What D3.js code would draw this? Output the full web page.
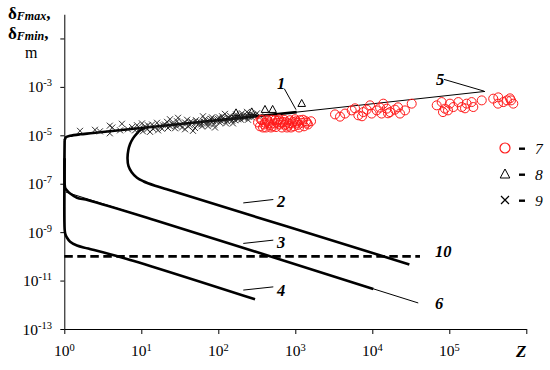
<!DOCTYPE html>
<html><head><meta charset="utf-8">
<script src="https://cdn.jsdelivr.net/npm/d3@7"></script>
<style>body{margin:0;background:#fff} svg{display:block} text{font-family:"Liberation Serif","Times New Roman",serif;fill:#000}</style>
</head><body><svg id="c" width="550" height="370"></svg>
<script>
// ---- data ----
const xTicks = [1, 10, 100, 1e3, 1e4, 1e5, 1e6];
const xTickLabels = ["0", "1", "2", "3", "4", "5", null];
const yTicks = [1e-13, 1e-11, 1e-9, 1e-7, 1e-5, 1e-3, 1e-1];
const yTickLabels = ["-13", "-11", "-9", "-7", "-5", "-3", null];

// thick computed curves [Z, delta]
const curve1 = [[1.0,6.0e-6],[1.02,6.8e-6],[1.05,8.3e-6],[1.19,9.5e-6],[1.6,1.1e-5],[2.36,1.24e-5],[10,2.0e-5],[100,4.24e-5],[1042,9.1e-5]];
const curve2 = [[11.2,2.04e-5],[9.9,1.69e-5],[8.8,1.21e-5],[7.8,7.5e-6],[7.13,4.26e-6],[6.78,2.4e-6],[6.62,1.13e-6],[6.82,5.3e-7],[7.5,3.0e-7],[8.79,1.77e-7],[10.6,1.27e-7],[15.1,8.3e-8],[21.4,5.9e-8],[30300,4.66e-11]];
const curve3 = [[1.01,6.3e-6],[1.01,1.0e-7],[1.03,6.5e-8],[1.08,5.3e-8],[1.19,3.94e-8],[1.46,2.65e-8],[2.05,2.09e-8],[15.1,3.13e-9],[10300,4.47e-12]];
const curve4 = [[1.01,1.12e-6],[1.01,1.3e-9],[1.03,8.5e-10],[1.08,6.0e-10],[1.19,4.0e-10],[1.46,2.8e-10],[2.05,2.1e-10],[6.2,8.2e-11],[300,1.68e-12]];
// thin asymptotes
const line5 = [[100,4.0e-5],[291000,6.5e-4]];
const line6 = [[1.05,4.5e-8],[39500,1.19e-12]];
// dashed level 10
const line10 = [[1.0,1e-10],[41600,1e-10]];

// experimental points
const series7 = [[328,3.4e-5],[348,2.35e-5],[370,4.2e-5],[393,2.8e-5],[416,2.1e-5],[442,3.8e-5],[469,2.6e-5],[498,4.4e-5],[528,3.1e-5],[561,2.2e-5],[596,4.0e-5],[632,2.8e-5],[671,2.1e-5],[713,4.4e-5],[757,3.4e-5],[804,2.5e-5],[853,4.2e-5],[906,3.1e-5],[962,2.35e-5],[1021,3.8e-5],[1084,2.7e-5],[1151,4.2e-5],[1222,3.3e-5],[1297,2.35e-5],[1377,3.8e-5],[1462,2.8e-5],[1600,3.8e-5],[381,2.1e-5],[483,2.1e-5],[614,4.6e-5],[780,2.1e-5],[991,4.6e-5],[1259,4.4e-5],[359,4.4e-5],[545,4.2e-5],[879,2.1e-5],[1117,2.1e-5],[735,2.7e-5],[455,3.1e-5],[578,3.3e-5],[933,3.6e-5],[1419,3.3e-5],[692,3.6e-5],[429,4.4e-5],[828,3.1e-5],[1052,3.3e-5],[404,3.3e-5],[651,3.4e-5],[513,2.35e-5],
[3810,5.9e-5],[4420,7.9e-5],[5400,1.07e-4],[6580,6.7e-5],[7640,9.1e-5],[8460,1.15e-4],[9820,7.9e-5],[11400,1.07e-4],[12600,1.39e-4],[13200,7.9e-5],[15400,1.26e-4],[17000,9.1e-5],[19700,1.15e-4],[22900,7.9e-5],[26600,1.07e-4],[32500,2.03e-4],[3280,7.3e-5],[9340,1.73e-4],[13900,2.03e-4],[5960,1.30e-4],[7350,6.1e-5],[16000,8.1e-5],[21600,1.43e-4],
[68600,1.73e-4],[79600,2.36e-4],[87900,1.26e-4],[102000,2.03e-4],[113000,1.47e-4],[131000,2.36e-4],[145000,1.47e-4],[168000,2.03e-4],[195000,2.36e-4],[205000,1.47e-4],[264000,2.77e-4],[82800,9.1e-5],[96200,1.07e-4],[160000,1.30e-4],
[372000,3.26e-4],[433000,3.69e-4],[503000,2.36e-4],[614000,3.36e-4],[678000,2.03e-4],[429000,2.03e-4],[561000,2.77e-4],[633000,2.77e-4]];
const series8 = [[170,8.3e-5],[272,9.1e-5],[404,1.15e-4],[508,1.15e-4],[1211,2.03e-4]];
const series9 = [[1.6,1.53e-5],[3.9,2.5e-5],[3.9,1.21e-5],[4.2,2.1e-5],[5.6,3.0e-5],[6.7,1.77e-5],[7.6,2.2e-5],[8.8,2.6e-5],[9.6,1.95e-5],[10.2,3.1e-5],[11.2,2.35e-5],[11.9,1.77e-5],[13,1.39e-5],[13.8,2.8e-5],[15.1,2.1e-5],[16,3.3e-5],[17.5,2.35e-5],[18.6,1.85e-5],[20.3,2.8e-5],[21.6,3.6e-5],[23.6,2.35e-5],[25.1,3.1e-5],[27.4,1.95e-5],[29.1,3.8e-5],[31.8,2.7e-5],[33.8,2.1e-5],[37,3.4e-5],[39.3,4.4e-5],[42.9,2.6e-5],[45.5,3.3e-5],[46.9,1.53e-5],[51.3,4.2e-5],[54.5,2.8e-5],[57.8,3.6e-5],[61.4,2.35e-5],[67.1,4.6e-5],[71.3,3.1e-5],[78,4.0e-5],[82.8,5.5e-5],[87.9,2.8e-5],[93.3,3.8e-5],[99,4.8e-5],[105,3.3e-5],[112,6.1e-5],[119,4.2e-5],[126,3.1e-5],[134,5.0e-5],[142,6.4e-5],[151,4.0e-5],[160,5.3e-5],[170,7.3e-5],[180,4.6e-5],[191,5.8e-5],[203,8.1e-5],[216,5.0e-5],[229,6.7e-5],[243,4.4e-5],[258,7.3e-5],[274,5.5e-5],[300,6.4e-5],[318,8.1e-5],[348,6.1e-5],[8.3,1.6e-5],[16.5,1.6e-5],[23.6,4.6e-5],[37,1.77e-5],[63.2,6.1e-5],[90.6,2.1e-5],[5.3,1.6e-5],[2.9,1.46e-5],[2.5,1.69e-5],[10.5,1.46e-5],[30,5.3e-5],[49.8,2.0e-5],[73.5,2.35e-5],[122,7.7e-5],[155,3.1e-5],[236,9.3e-5],
[12.2,2.6e-5],[14.2,1.85e-5],[19.1,2.6e-5],[22.2,2.0e-5],[25.8,2.8e-5],[28.3,2.5e-5],[34.8,3.1e-5],[40.5,2.35e-5],[44.2,3.8e-5],[52.9,3.4e-5],[59.6,2.8e-5],[65.2,3.6e-5],[75.7,3.1e-5],[80.4,4.8e-5],[85.3,3.8e-5],[96.2,4.2e-5],[102,5.5e-5],[108,4.0e-5],[115,5.0e-5],[130,3.8e-5],[138,5.3e-5],[146,4.8e-5],[165,4.2e-5],[175,5.8e-5],[186,5.3e-5],[197,4.4e-5],[209,6.4e-5],[222,5.5e-5],[251,5.8e-5],[282,7.0e-5]];

// curve labels: [text, textZ, textDelta, leaderFrom, leaderTo]
const curveLabels = [
  ["1", 578, 8.4e-4, [720,8.4e-4], [1021,1.15e-4]],
  ["5", 67100, 1.15e-3, [85300,2.04e-3], [282000,6.7e-4]],
  ["2", 578, 1.07e-8, [211,1.61e-8], [518,2.23e-8]],
  ["3", 578, 2.19e-10, [211,3.42e-10], [518,4.68e-10]],
  ["4", 578, 2.3e-12, [211,4.05e-12], [518,5.5e-12]],
  ["6", 65200, 6.7e-13, null, null],
  ["10", 65200, 9.3e-11, null, null]
];
const legendItems = [["circle","7"],["triangle","8"],["cross","9"]];

// ---- drawing ----
const svg = d3.select("#c");
const x = d3.scaleLog().domain([1, 1e6]).range([64.3, 526.3]);
const y = d3.scaleLog().domain([1e-13, 1]).range([329, 14.25]);

svg.append("g").attr("transform","translate(0,329)")
  .call(d3.axisBottom(x).tickValues(xTicks).tickFormat("").tickSize(5).tickSizeOuter(0));
svg.append("g").attr("transform","translate(64.3,0)")
  .call(d3.axisLeft(y).tickValues(yTicks).tickFormat("").tickSize(4).tickSizeOuter(0));
svg.selectAll(".domain, .tick line").attr("stroke","#000").attr("stroke-width",1);

// x tick labels
xTicks.forEach((t,i)=>{
  if(xTickLabels[i]===null) return;
  const tx = svg.append("text").attr("x", x(t)).attr("y", 356).attr("text-anchor","middle").attr("font-size",15.5);
  tx.append("tspan").text("10");
  tx.append("tspan").attr("font-size",10.5).attr("dy",-5).text(xTickLabels[i]);
});
svg.append("text").attr("x", x(1e6)-5).attr("y",357).attr("text-anchor","middle")
  .attr("font-size",17).attr("font-weight","bold").attr("font-style","italic").text("Z");

// y tick labels
yTicks.forEach((t,i)=>{
  if(yTickLabels[i]===null) return;
  const ty = svg.append("text").attr("x", 52).attr("y", y(t)+5.5).attr("text-anchor","end").attr("font-size",15.5);
  ty.append("tspan").text("10");
  ty.append("tspan").attr("font-size",10.5).attr("dy",-6).text(yTickLabels[i]);
});

// y title
function deltaTitle(yy, sub){
  const t = svg.append("text").attr("x",8).attr("y",yy).attr("font-size",17).attr("font-weight","bold");
  t.append("tspan").text("δ");
  t.append("tspan").attr("font-size",12).attr("font-style","italic").attr("dy",1).text(sub);
  t.append("tspan").attr("dy",-1).text(",");
}
deltaTitle(19, "Fmax");
deltaTitle(38.5, "Fmin");
svg.append("text").attr("x",25).attr("y",58).attr("font-size",16).text("m");

// lines
const lineGen = d3.line().x(d=>x(d[0])).y(d=>y(d[1])).curve(d3.curveCatmullRom.alpha(0.5));
const straight = d3.line().x(d=>x(d[0])).y(d=>y(d[1]));
[line5, line6].forEach(l=>svg.append("path").attr("d", straight(l)).attr("fill","none").attr("stroke","#000").attr("stroke-width",1));
svg.append("path").attr("d", straight(line10)).attr("fill","none").attr("stroke","#000")
  .attr("stroke-width",2.8).attr("stroke-dasharray","8.5,4.5");
[curve1, curve2, curve3, curve4].forEach(c=>svg.append("path").attr("d", lineGen(c))
  .attr("fill","none").attr("stroke","#000").attr("stroke-width",2.6).attr("stroke-linejoin","round"));

// markers
const crossPath = "M-3,-3L3,3M-3,3L3,-3";
const triPath = "M0,-4.2L3.8,2.8L-3.8,2.8Z";
svg.append("g").selectAll("path").data(series9).join("path")
  .attr("d", crossPath).attr("transform", d=>`translate(${x(d[0])},${y(d[1])})`)
  .attr("fill","none").attr("stroke","#1a1a1a").attr("stroke-width",0.9);
svg.append("g").selectAll("path").data(series8).join("path")
  .attr("d", triPath).attr("transform", d=>`translate(${x(d[0])},${y(d[1])})`)
  .attr("fill","none").attr("stroke","#000").attr("stroke-width",1);
svg.append("g").selectAll("circle").data(series7).join("circle")
  .attr("cx", d=>x(d[0])).attr("cy", d=>y(d[1])).attr("r",4.5)
  .attr("fill","none").attr("stroke","#ff1a1a").attr("stroke-width",1);

// curve labels and leaders
curveLabels.forEach(([txt, tz, td, a, b])=>{
  svg.append("text").attr("x", x(tz)).attr("y", y(td)).attr("font-size",16.5)
    .attr("font-weight","bold").attr("font-style","italic").text(txt);
  if(a) svg.append("line").attr("x1",x(a[0])).attr("y1",y(a[1])).attr("x2",x(b[0])).attr("y2",y(b[1]))
    .attr("stroke","#000").attr("stroke-width",1);
});

// legend
legendItems.forEach(([sym, lab], i)=>{
  const cy = 148 + i*26, cx = 505;
  if(sym==="circle") svg.append("circle").attr("cx",cx).attr("cy",cy).attr("r",5).attr("fill","none").attr("stroke","#ff1a1a").attr("stroke-width",1.2);
  if(sym==="triangle") svg.append("path").attr("d","M0,-5L4.8,4L-4.8,4Z").attr("transform",`translate(${cx},${cy})`).attr("fill","none").attr("stroke","#000").attr("stroke-width",1);
  if(sym==="cross") svg.append("path").attr("d","M-4,-4L4,4M-4,4L4,-4").attr("transform",`translate(${cx},${cy})`).attr("fill","none").attr("stroke","#000").attr("stroke-width",1.2);
  svg.append("rect").attr("x",519).attr("y",cy-0.5).attr("width",6).attr("height",2.4).attr("fill","#000");
  svg.append("text").attr("x",535).attr("y",cy+5.5).attr("font-size",15.5).attr("font-style","italic").text(lab);
});
</script></body></html>
